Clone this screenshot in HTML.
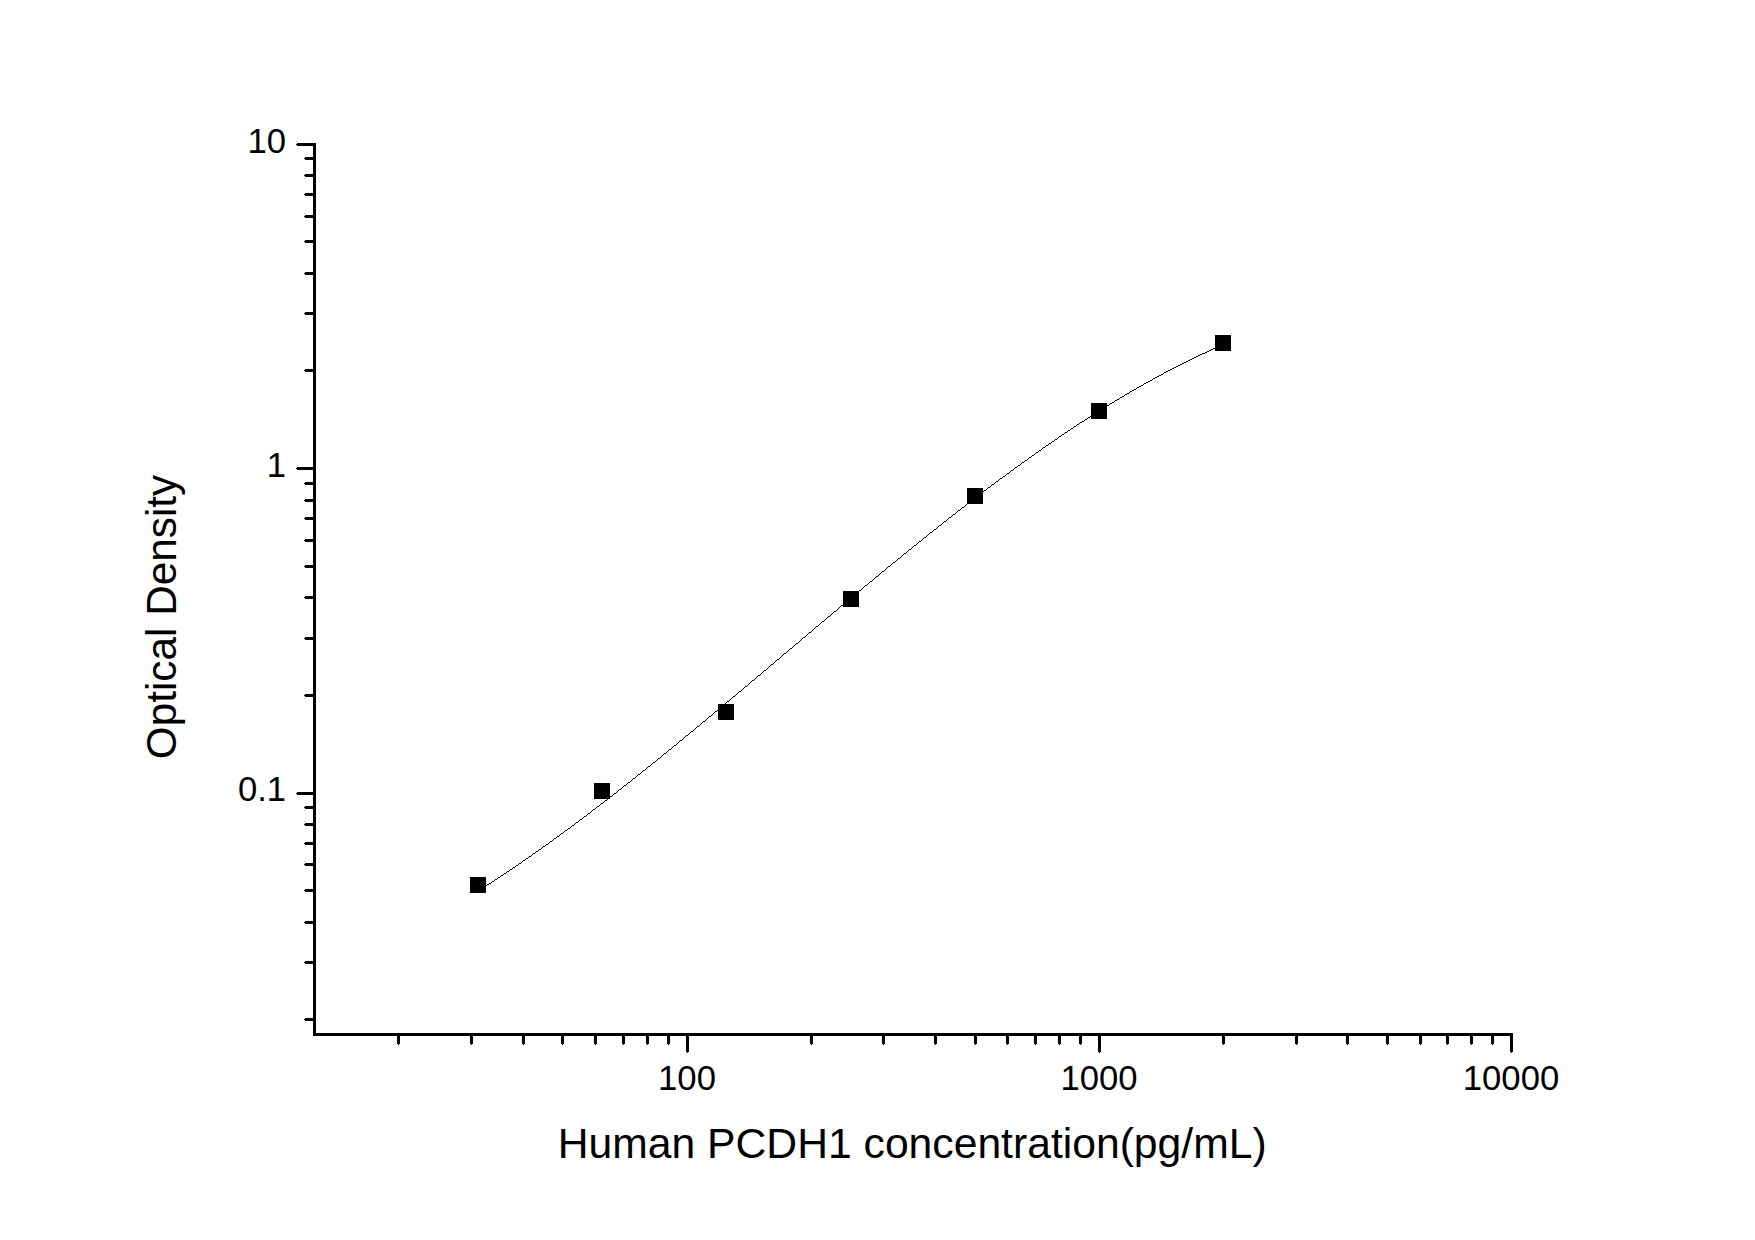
<!DOCTYPE html>
<html lang="en">
<head>
<meta charset="utf-8">
<title>Human PCDH1 ELISA standard curve</title>
<style>
html,body{margin:0;padding:0;background:#fff;}
body{width:1755px;height:1240px;overflow:hidden;}
svg{display:block;}
text{font-family:"Liberation Sans",Arial,sans-serif;fill:#000;}
.tick{font-size:34.67px;}
.title{font-size:42.67px;}
.ax{fill:#000;shape-rendering:crispEdges;}
.curve{fill:#000;stroke:none;shape-rendering:crispEdges;}
</style>
</head>
<body>
<svg width="1755" height="1240" viewBox="0 0 1755 1240">
<rect x="0" y="0" width="1755" height="1240" fill="#fff"/>

<!-- axes -->
<g class="ax">
<rect x="313" y="143" width="3" height="893"/>
<rect x="313" y="1033" width="1200" height="3"/>
<!-- y ticks -->
<rect x="297" y="143" width="17" height="3"/><rect x="296" y="144" width="1" height="1"/>
<rect x="305" y="157" width="9" height="3"/><rect x="304" y="158" width="1" height="1"/>
<rect x="305" y="174" width="9" height="3"/><rect x="304" y="175" width="1" height="1"/>
<rect x="305" y="193" width="9" height="3"/><rect x="304" y="194" width="1" height="1"/>
<rect x="305" y="215" width="9" height="3"/><rect x="304" y="216" width="1" height="1"/>
<rect x="305" y="240" width="9" height="3"/><rect x="304" y="241" width="1" height="1"/>
<rect x="305" y="272" width="9" height="3"/><rect x="304" y="273" width="1" height="1"/>
<rect x="305" y="312" width="9" height="3"/><rect x="304" y="313" width="1" height="1"/>
<rect x="305" y="369" width="9" height="3"/><rect x="304" y="370" width="1" height="1"/>
<rect x="297" y="467" width="17" height="3"/><rect x="296" y="468" width="1" height="1"/>
<rect x="305" y="482" width="9" height="3"/><rect x="304" y="483" width="1" height="1"/>
<rect x="305" y="499" width="9" height="3"/><rect x="304" y="500" width="1" height="1"/>
<rect x="305" y="517" width="9" height="3"/><rect x="304" y="518" width="1" height="1"/>
<rect x="305" y="539" width="9" height="3"/><rect x="304" y="540" width="1" height="1"/>
<rect x="305" y="565" width="9" height="3"/><rect x="304" y="566" width="1" height="1"/>
<rect x="305" y="596" width="9" height="3"/><rect x="304" y="597" width="1" height="1"/>
<rect x="305" y="637" width="9" height="3"/><rect x="304" y="638" width="1" height="1"/>
<rect x="305" y="694" width="9" height="3"/><rect x="304" y="695" width="1" height="1"/>
<rect x="297" y="792" width="17" height="3"/><rect x="296" y="793" width="1" height="1"/>
<rect x="305" y="806" width="9" height="3"/><rect x="304" y="807" width="1" height="1"/>
<rect x="305" y="823" width="9" height="3"/><rect x="304" y="824" width="1" height="1"/>
<rect x="305" y="842" width="9" height="3"/><rect x="304" y="843" width="1" height="1"/>
<rect x="305" y="863" width="9" height="3"/><rect x="304" y="864" width="1" height="1"/>
<rect x="305" y="889" width="9" height="3"/><rect x="304" y="890" width="1" height="1"/>
<rect x="305" y="921" width="9" height="3"/><rect x="304" y="922" width="1" height="1"/>
<rect x="305" y="961" width="9" height="3"/><rect x="304" y="962" width="1" height="1"/>
<rect x="305" y="1018" width="9" height="3"/><rect x="304" y="1019" width="1" height="1"/>
<!-- x ticks -->
<rect x="397" y="1035" width="3" height="9"/><rect x="398" y="1044" width="1" height="1"/>
<rect x="470" y="1035" width="3" height="9"/><rect x="471" y="1044" width="1" height="1"/>
<rect x="522" y="1035" width="3" height="9"/><rect x="523" y="1044" width="1" height="1"/>
<rect x="561" y="1035" width="3" height="9"/><rect x="562" y="1044" width="1" height="1"/>
<rect x="594" y="1035" width="3" height="9"/><rect x="595" y="1044" width="1" height="1"/>
<rect x="622" y="1035" width="3" height="9"/><rect x="623" y="1044" width="1" height="1"/>
<rect x="646" y="1035" width="3" height="9"/><rect x="647" y="1044" width="1" height="1"/>
<rect x="667" y="1035" width="3" height="9"/><rect x="668" y="1044" width="1" height="1"/>
<rect x="686" y="1035" width="3" height="17"/><rect x="687" y="1052" width="1" height="1"/>
<rect x="810" y="1035" width="3" height="9"/><rect x="811" y="1044" width="1" height="1"/>
<rect x="882" y="1035" width="3" height="9"/><rect x="883" y="1044" width="1" height="1"/>
<rect x="934" y="1035" width="3" height="9"/><rect x="935" y="1044" width="1" height="1"/>
<rect x="974" y="1035" width="3" height="9"/><rect x="975" y="1044" width="1" height="1"/>
<rect x="1006" y="1035" width="3" height="9"/><rect x="1007" y="1044" width="1" height="1"/>
<rect x="1034" y="1035" width="3" height="9"/><rect x="1035" y="1044" width="1" height="1"/>
<rect x="1058" y="1035" width="3" height="9"/><rect x="1059" y="1044" width="1" height="1"/>
<rect x="1079" y="1035" width="3" height="9"/><rect x="1080" y="1044" width="1" height="1"/>
<rect x="1098" y="1035" width="3" height="17"/><rect x="1099" y="1052" width="1" height="1"/>
<rect x="1222" y="1035" width="3" height="9"/><rect x="1223" y="1044" width="1" height="1"/>
<rect x="1295" y="1035" width="3" height="9"/><rect x="1296" y="1044" width="1" height="1"/>
<rect x="1346" y="1035" width="3" height="9"/><rect x="1347" y="1044" width="1" height="1"/>
<rect x="1386" y="1035" width="3" height="9"/><rect x="1387" y="1044" width="1" height="1"/>
<rect x="1419" y="1035" width="3" height="9"/><rect x="1420" y="1044" width="1" height="1"/>
<rect x="1446" y="1035" width="3" height="9"/><rect x="1447" y="1044" width="1" height="1"/>
<rect x="1470" y="1035" width="3" height="9"/><rect x="1471" y="1044" width="1" height="1"/>
<rect x="1491" y="1035" width="3" height="9"/><rect x="1492" y="1044" width="1" height="1"/>
<rect x="1510" y="1035" width="3" height="17"/><rect x="1511" y="1052" width="1" height="1"/>
</g>
<!-- tick labels -->
<text class="tick" x="286.1" y="153" text-anchor="end">10</text>
<text class="tick" x="286.1" y="477" text-anchor="end">1</text>
<text class="tick" x="286.1" y="801" text-anchor="end">0.1</text>
<text class="tick" x="687.0" y="1090" text-anchor="middle">100</text>
<text class="tick" x="1099.0" y="1090" text-anchor="middle">1000</text>
<text class="tick" x="1511.0" y="1090" text-anchor="middle">10000</text>
<!-- axis titles -->
<text class="title" x="912.2" y="1158" text-anchor="middle">Human PCDH1 concentration(pg/mL)</text>
<text class="title" style="font-size:42.3px" transform="translate(176.2,617) rotate(-90)" text-anchor="middle">Optical Density</text>
<!-- fitted curve -->
<path class="curve" d="M478.0,890.55 L480.5,888.97 L483.0,887.38 L485.5,885.78 L488.0,884.17 L490.5,882.55 L493.0,880.93 L495.5,879.29 L498.0,877.65 L500.5,876.00 L503.0,874.34 L505.5,872.68 L508.0,871.00 L510.5,869.32 L513.0,867.63 L515.5,865.93 L518.0,864.23 L520.5,862.52 L523.0,860.80 L525.5,859.07 L528.0,857.33 L530.5,855.59 L533.0,853.84 L535.5,852.08 L538.0,850.32 L540.5,848.55 L543.0,846.77 L545.5,844.99 L548.0,843.20 L550.5,841.40 L553.0,839.59 L555.5,837.78 L558.0,835.97 L560.5,834.14 L563.0,832.31 L565.5,830.47 L568.0,828.63 L570.5,826.78 L573.0,824.93 L575.5,823.07 L578.0,821.20 L580.5,819.33 L583.0,817.45 L585.5,815.56 L588.0,813.67 L590.5,811.78 L593.0,809.88 L595.5,807.97 L598.0,806.06 L600.5,804.14 L603.0,802.22 L605.5,800.29 L608.0,798.36 L610.5,796.42 L613.0,794.48 L615.5,792.53 L618.0,790.58 L620.5,788.62 L623.0,786.66 L625.5,784.69 L628.0,782.72 L630.5,780.75 L633.0,778.77 L635.5,776.79 L638.0,774.80 L640.5,772.81 L643.0,770.81 L645.5,768.81 L648.0,766.81 L650.5,764.80 L653.0,762.79 L655.5,760.77 L658.0,758.75 L660.5,756.73 L663.0,754.71 L665.5,752.68 L668.0,750.65 L670.5,748.61 L673.0,746.57 L675.5,744.53 L678.0,742.48 L680.5,740.44 L683.0,738.38 L685.5,736.33 L688.0,734.27 L690.5,732.21 L693.0,730.15 L695.5,728.09 L698.0,726.02 L700.5,723.95 L703.0,721.88 L705.5,719.80 L708.0,717.73 L710.5,715.65 L713.0,713.57 L715.5,711.49 L718.0,709.40 L720.5,707.32 L723.0,705.23 L725.5,703.14 L728.0,701.05 L730.5,698.95 L733.0,696.86 L735.5,694.76 L738.0,692.66 L740.5,690.56 L743.0,688.46 L745.5,686.36 L748.0,684.26 L750.5,682.16 L753.0,680.05 L755.5,677.95 L758.0,675.84 L760.5,673.74 L763.0,671.63 L765.5,669.52 L768.0,667.41 L770.5,665.30 L773.0,663.19 L775.5,661.08 L778.0,658.97 L780.5,656.86 L783.0,654.75 L785.5,652.64 L788.0,650.53 L790.5,648.42 L793.0,646.31 L795.5,644.20 L798.0,642.09 L800.5,639.98 L803.0,637.87 L805.5,635.77 L808.0,633.66 L810.5,631.55 L813.0,629.44 L815.5,627.34 L818.0,625.23 L820.5,623.13 L823.0,621.03 L825.5,618.92 L828.0,616.82 L830.5,614.72 L833.0,612.63 L835.5,610.53 L838.0,608.43 L840.5,606.34 L843.0,604.25 L845.5,602.16 L848.0,600.07 L850.5,597.98 L853.0,595.89 L855.5,593.81 L858.0,591.73 L860.5,589.65 L863.0,587.57 L865.5,585.50 L868.0,583.42 L870.5,581.35 L873.0,579.28 L875.5,577.22 L878.0,575.15 L880.5,573.09 L883.0,571.03 L885.5,568.98 L888.0,566.92 L890.5,564.87 L893.0,562.83 L895.5,560.78 L898.0,558.74 L900.5,556.70 L903.0,554.67 L905.5,552.63 L908.0,550.61 L910.5,548.58 L913.0,546.56 L915.5,544.54 L918.0,542.53 L920.5,540.52 L923.0,538.51 L925.5,536.50 L928.0,534.50 L930.5,532.51 L933.0,530.52 L935.5,528.53 L938.0,526.55 L940.5,524.57 L943.0,522.59 L945.5,520.62 L948.0,518.65 L950.5,516.69 L953.0,514.74 L955.5,512.78 L958.0,510.83 L960.5,508.89 L963.0,506.95 L965.5,505.02 L968.0,503.09 L970.5,501.17 L973.0,499.25 L975.5,497.33 L978.0,495.42 L980.5,493.52 L983.0,491.62 L985.5,489.73 L988.0,487.84 L990.5,485.96 L993.0,484.09 L995.5,482.22 L998.0,480.35 L1000.5,478.49 L1003.0,476.64 L1005.5,474.79 L1008.0,472.95 L1010.5,471.12 L1013.0,469.29 L1015.5,467.47 L1018.0,465.65 L1020.5,463.84 L1023.0,462.04 L1025.5,460.24 L1028.0,458.45 L1030.5,456.67 L1033.0,454.89 L1035.5,453.12 L1038.0,451.35 L1040.5,449.60 L1043.0,447.85 L1045.5,446.10 L1048.0,444.37 L1050.5,442.64 L1053.0,440.92 L1055.5,439.20 L1058.0,437.50 L1060.5,435.80 L1063.0,434.11 L1065.5,432.42 L1068.0,430.74 L1070.5,429.07 L1073.0,427.41 L1075.5,425.76 L1078.0,424.11 L1080.5,422.47 L1083.0,420.84 L1085.5,419.22 L1088.0,417.61 L1090.5,416.00 L1093.0,414.40 L1095.5,412.81 L1098.0,411.23 L1100.5,409.66 L1103.0,408.10 L1105.5,406.54 L1108.0,405.00 L1110.5,403.46 L1113.0,401.93 L1115.5,400.41 L1118.0,398.90 L1120.5,397.39 L1123.0,395.90 L1125.5,394.41 L1128.0,392.94 L1130.5,391.47 L1133.0,390.02 L1135.5,388.57 L1138.0,387.13 L1140.5,385.70 L1143.0,384.28 L1145.5,382.87 L1148.0,381.47 L1150.5,380.08 L1153.0,378.70 L1155.5,377.33 L1158.0,375.97 L1160.5,374.62 L1163.0,373.28 L1165.5,371.95 L1168.0,370.63 L1170.5,369.32 L1173.0,368.02 L1175.5,366.73 L1178.0,365.45 L1180.5,364.19 L1183.0,362.93 L1185.5,361.68 L1188.0,360.45 L1190.5,359.22 L1193.0,358.00 L1195.5,356.80 L1198.0,355.61 L1200.5,354.43 L1203.0,353.26 L1205.5,352.10 L1208.0,350.95 L1210.5,349.81 L1213.0,348.69 L1215.5,347.57 L1218.0,346.47 L1220.5,345.38 L1223.0,344.30 L1223.0,345.30 L1220.5,346.38 L1218.0,347.47 L1215.5,348.57 L1213.0,349.69 L1210.5,350.81 L1208.0,351.95 L1205.5,353.10 L1203.0,354.26 L1200.5,355.43 L1198.0,356.61 L1195.5,357.80 L1193.0,359.00 L1190.5,360.22 L1188.0,361.45 L1185.5,362.68 L1183.0,363.93 L1180.5,365.19 L1178.0,366.45 L1175.5,367.73 L1173.0,369.02 L1170.5,370.32 L1168.0,371.63 L1165.5,372.95 L1163.0,374.28 L1160.5,375.62 L1158.0,376.97 L1155.5,378.33 L1153.0,379.70 L1150.5,381.08 L1148.0,382.47 L1145.5,383.87 L1143.0,385.28 L1140.5,386.70 L1138.0,388.13 L1135.5,389.57 L1133.0,391.02 L1130.5,392.47 L1128.0,393.94 L1125.5,395.41 L1123.0,396.90 L1120.5,398.39 L1118.0,399.90 L1115.5,401.41 L1113.0,402.93 L1110.5,404.46 L1108.0,406.00 L1105.5,407.54 L1103.0,409.10 L1100.5,410.66 L1098.0,412.23 L1095.5,413.81 L1093.0,415.40 L1090.5,417.00 L1088.0,418.61 L1085.5,420.22 L1083.0,421.84 L1080.5,423.47 L1078.0,425.11 L1075.5,426.76 L1073.0,428.41 L1070.5,430.07 L1068.0,431.74 L1065.5,433.42 L1063.0,435.11 L1060.5,436.80 L1058.0,438.50 L1055.5,440.20 L1053.0,441.92 L1050.5,443.64 L1048.0,445.37 L1045.5,447.10 L1043.0,448.85 L1040.5,450.60 L1038.0,452.35 L1035.5,454.12 L1033.0,455.89 L1030.5,457.67 L1028.0,459.45 L1025.5,461.24 L1023.0,463.04 L1020.5,464.84 L1018.0,466.65 L1015.5,468.47 L1013.0,470.29 L1010.5,472.12 L1008.0,473.95 L1005.5,475.79 L1003.0,477.64 L1000.5,479.49 L998.0,481.35 L995.5,483.22 L993.0,485.09 L990.5,486.96 L988.0,488.84 L985.5,490.73 L983.0,492.62 L980.5,494.52 L978.0,496.42 L975.5,498.33 L973.0,500.25 L970.5,502.17 L968.0,504.09 L965.5,506.02 L963.0,507.95 L960.5,509.89 L958.0,511.83 L955.5,513.78 L953.0,515.74 L950.5,517.69 L948.0,519.65 L945.5,521.62 L943.0,523.59 L940.5,525.57 L938.0,527.55 L935.5,529.53 L933.0,531.52 L930.5,533.51 L928.0,535.50 L925.5,537.50 L923.0,539.51 L920.5,541.52 L918.0,543.53 L915.5,545.54 L913.0,547.56 L910.5,549.58 L908.0,551.61 L905.5,553.63 L903.0,555.67 L900.5,557.70 L898.0,559.74 L895.5,561.78 L893.0,563.83 L890.5,565.87 L888.0,567.92 L885.5,569.98 L883.0,572.03 L880.5,574.09 L878.0,576.15 L875.5,578.22 L873.0,580.28 L870.5,582.35 L868.0,584.42 L865.5,586.50 L863.0,588.57 L860.5,590.65 L858.0,592.73 L855.5,594.81 L853.0,596.89 L850.5,598.98 L848.0,601.07 L845.5,603.16 L843.0,605.25 L840.5,607.34 L838.0,609.43 L835.5,611.53 L833.0,613.63 L830.5,615.72 L828.0,617.82 L825.5,619.92 L823.0,622.03 L820.5,624.13 L818.0,626.23 L815.5,628.34 L813.0,630.44 L810.5,632.55 L808.0,634.66 L805.5,636.77 L803.0,638.87 L800.5,640.98 L798.0,643.09 L795.5,645.20 L793.0,647.31 L790.5,649.42 L788.0,651.53 L785.5,653.64 L783.0,655.75 L780.5,657.86 L778.0,659.97 L775.5,662.08 L773.0,664.19 L770.5,666.30 L768.0,668.41 L765.5,670.52 L763.0,672.63 L760.5,674.74 L758.0,676.84 L755.5,678.95 L753.0,681.05 L750.5,683.16 L748.0,685.26 L745.5,687.36 L743.0,689.46 L740.5,691.56 L738.0,693.66 L735.5,695.76 L733.0,697.86 L730.5,699.95 L728.0,702.05 L725.5,704.14 L723.0,706.23 L720.5,708.32 L718.0,710.40 L715.5,712.49 L713.0,714.57 L710.5,716.65 L708.0,718.73 L705.5,720.80 L703.0,722.88 L700.5,724.95 L698.0,727.02 L695.5,729.09 L693.0,731.15 L690.5,733.21 L688.0,735.27 L685.5,737.33 L683.0,739.38 L680.5,741.44 L678.0,743.48 L675.5,745.53 L673.0,747.57 L670.5,749.61 L668.0,751.65 L665.5,753.68 L663.0,755.71 L660.5,757.73 L658.0,759.75 L655.5,761.77 L653.0,763.79 L650.5,765.80 L648.0,767.81 L645.5,769.81 L643.0,771.81 L640.5,773.81 L638.0,775.80 L635.5,777.79 L633.0,779.77 L630.5,781.75 L628.0,783.72 L625.5,785.69 L623.0,787.66 L620.5,789.62 L618.0,791.58 L615.5,793.53 L613.0,795.48 L610.5,797.42 L608.0,799.36 L605.5,801.29 L603.0,803.22 L600.5,805.14 L598.0,807.06 L595.5,808.97 L593.0,810.88 L590.5,812.78 L588.0,814.67 L585.5,816.56 L583.0,818.45 L580.5,820.33 L578.0,822.20 L575.5,824.07 L573.0,825.93 L570.5,827.78 L568.0,829.63 L565.5,831.47 L563.0,833.31 L560.5,835.14 L558.0,836.97 L555.5,838.78 L553.0,840.59 L550.5,842.40 L548.0,844.20 L545.5,845.99 L543.0,847.77 L540.5,849.55 L538.0,851.32 L535.5,853.08 L533.0,854.84 L530.5,856.59 L528.0,858.33 L525.5,860.07 L523.0,861.80 L520.5,863.52 L518.0,865.23 L515.5,866.93 L513.0,868.63 L510.5,870.32 L508.0,872.00 L505.5,873.68 L503.0,875.34 L500.5,877.00 L498.0,878.65 L495.5,880.29 L493.0,881.93 L490.5,883.55 L488.0,885.17 L485.5,886.78 L483.0,888.38 L480.5,889.97 L478.0,891.55 Z"/>
<!-- data points -->
<g class="ax">
<rect x="470" y="877" width="16" height="16"/>
<rect x="594" y="783" width="16" height="16"/>
<rect x="718" y="704" width="16" height="16"/>
<rect x="843" y="591" width="16" height="16"/>
<rect x="967" y="488" width="16" height="16"/>
<rect x="1091" y="403" width="16" height="16"/>
<rect x="1215" y="335" width="16" height="16"/>
</g>
</svg>
</body>
</html>
